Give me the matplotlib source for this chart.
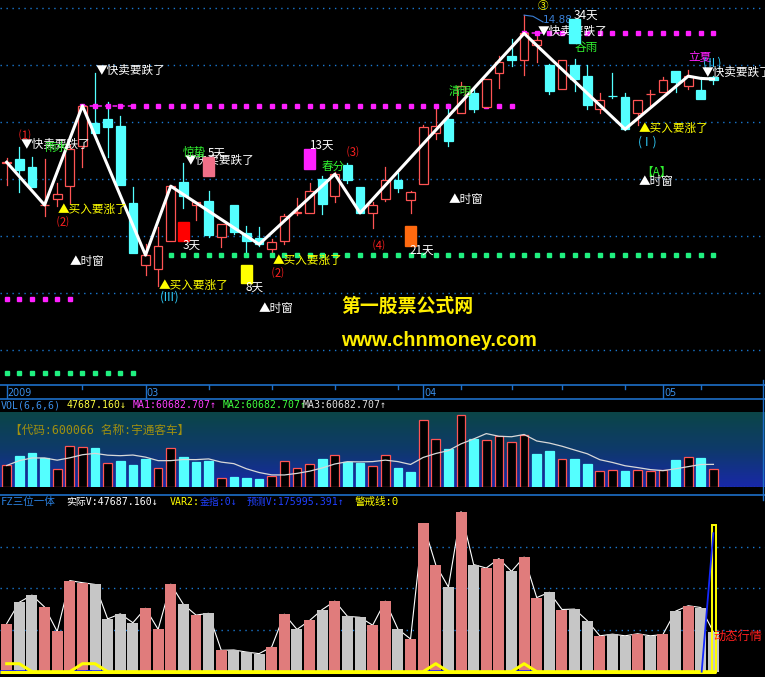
import numpy as np
import pandas as pd
import matplotlib
matplotlib.use('Agg')
import matplotlib.pyplot as plt
from matplotlib.patches import Rectangle
from matplotlib.lines import Line2D
from matplotlib.colors import LinearSegmentedColormap

plt.rcParams['font.family'] = ['Noto Sans CJK SC', 'DejaVu Sans']

# ---------------- data ----------------
opens  = [12.29, 12.36, 12.22, 11.55, 11.65, 11.89, 12.58, 12.99, 13.06, 12.94,
          11.58, 10.50, 10.42, 10.92, 11.95, 11.55, 11.62, 10.98, 11.55, 11.06,
          10.97, 10.77, 10.91, 11.41, 11.41, 12.00, 11.71, 12.25, 11.87, 11.41,
          11.65, 11.99, 11.64, 11.92, 12.82, 13.06, 13.17, 13.52, 13.27, 13.87,
          14.17, 14.09, 14.36, 14.01, 13.58, 14.01, 13.81, 13.23, 13.47, 13.44,
          13.16, 13.49, 13.54, 13.90, 13.63, 13.57, 13.80]
highs  = [12.37, 12.56, 12.40, 12.35, 11.94, 12.60, 13.29, 13.86, 13.36, 13.11,
          11.87, 10.87, 11.16, 11.88, 12.28, 11.60, 11.80, 11.22, 11.55, 11.18,
          11.16, 10.95, 11.40, 11.67, 11.93, 12.05, 12.12, 12.28, 11.87, 11.61,
          12.22, 12.11, 11.80, 12.95, 13.26, 13.33, 13.71, 13.60, 13.76, 14.16,
          14.46, 14.88, 14.56, 14.02, 14.09, 14.11, 14.01, 13.51, 13.86, 13.51,
          13.40, 13.57, 13.80, 13.90, 13.92, 13.79, 13.81]
lows   = [11.90, 11.77, 11.87, 11.36, 11.53, 11.58, 12.22, 12.82, 12.40, 11.90,
          10.71, 10.32, 10.12, 10.92, 11.49, 11.29, 10.98, 10.82, 11.04, 10.71,
          10.83, 10.70, 10.87, 11.37, 11.41, 11.39, 11.60, 11.93, 11.41, 11.14,
          11.62, 11.77, 11.41, 11.92, 12.71, 12.58, 13.17, 13.18, 13.27, 13.61,
          13.98, 13.83, 14.06, 13.49, 13.58, 13.55, 13.23, 13.16, 13.42, 12.87,
          12.95, 13.30, 13.54, 13.54, 13.58, 13.41, 13.68]
closes = [12.30, 12.16, 11.87, 11.55, 11.75, 12.54, 13.29, 12.82, 12.92, 11.90,
          10.71, 10.67, 10.83, 11.88, 11.70, 11.60, 11.02, 11.22, 11.08, 10.91,
          10.86, 10.90, 11.36, 11.41, 11.80, 11.57, 12.09, 11.98, 11.41, 11.55,
          11.98, 11.85, 11.77, 12.92, 12.93, 12.67, 13.64, 13.23, 13.76, 14.06,
          14.09, 14.56, 14.44, 13.55, 14.09, 13.76, 13.30, 13.40, 13.46, 12.88,
          13.40, 13.50, 13.75, 13.71, 13.81, 13.41, 13.74]
vol = [57800, 83400, 92000, 77700, 48300, 109400, 106900, 104800, 63400, 69500,
       58800, 76200, 50800, 105200, 80900, 68000, 70100, 25700, 26100, 23600,
       21700, 29800, 69100, 50800, 61500, 74600, 84800, 66500, 65300, 55800,
       84800, 51200, 39300, 178000, 128300, 101600, 192300, 128700, 124500, 135800,
       120500, 137700, 89000, 95400, 74700, 75200, 61300, 43100, 45100, 43100,
       45600, 43100, 44700, 72700, 79200, 77100, 47687]
vol_colors = "rcccrrrcrc" "ccrrcccrcc" "crrrrcrccr" "rccrrcrcrr" "rrccrccrrc" "rrrcrcr"
fz_colors  = "rccrrrrccc" "crrrcrcrcc" "crrcrcrccr" "rcrrrcrcrr" "crrcrccrcc" "rcrcrcc"
var2 = [9600, 9600, 0, 0, 0, 0, 9600, 9600, 0, 0,
        0, 0, 0, 0, 0, 0, 0, 0, 0, 0,
        0, 0, 0, 0, 0, 0, 0, 0, 0, 0,
        0, 0, 0, 0, 9600, 0, 0, 0, 0, 0,
        0, 9600, 0, 0, 0, 0, 0, 0, 0, 0,
        0, 0, 0, 0, 0, 0, 0]
zz_idx = [0, 3, 6, 11, 13, 20, 26, 28, 41, 49, 54, 55, 56]
zz_val = [12.30, 11.55, 13.29, 10.67, 11.88, 10.86, 12.09, 11.41, 14.56, 12.88, 13.81, 13.77, 13.76]
date_major_idx = [0, 11, 33, 52]
date_major_lab = ['2009', '03', '04', '05']
date_minor_idx = [6, 16, 21, 26, 31, 36, 40, 44, 49, 55]
fib_idx = [14, 16, 19, 24, 32, 45]
fib_lab = ['3天', '5天', '8天', '13天', '21天', '34天']
fib_lo = [10.92, 12.05, 10.18, 12.18, 10.83, 14.40]
fib_hi = [11.26, 12.39, 10.50, 12.53, 11.18, 14.81]
fib_above = [False, True, False, True, False, True]
level_price = [13.28, 9.90, 14.56, 10.67, 8.60]
level_start = [6, 0, 41, 12, 0]
level_end = [40, 5, 56, 56, 10]
level_kind = ['m', 'm', 'm', 'g', 'g']
vol_last = 47687.160
ma_last = 60682.707
pred_v = 175995.391

# ---------------- colours ----------------
RED = '#ff5454'
CYAN = '#54ffff'
GRID = '#1a78d0'
BLUE_T = '#3a8ee8'
YEL = '#ffff00'
GREEN_T = '#30f030'
WHITE = '#ffffff'
MAG = '#ff20ff'
RED_T = '#ff2020'
CYAN_T = '#30d0ff'

W, H = 765, 677
fig = plt.figure(figsize=(W / 100, H / 100), dpi=100, facecolor='black')
n = len(closes)
idx = np.arange(n)
X0 = -6.7 / 12.62
X1 = (W - 6.7) / 12.62


def add_ax(top, bottom):
    ax = fig.add_axes([0, 1 - bottom / H, 1, (bottom - top) / H])
    ax.set_axis_off()
    ax.set_xlim(X0, X1)
    return ax


def hline_px(y, color='#1e6fc8', lw=1.2):
    fig.add_artist(Line2D([0, 1], [1 - y / H, 1 - y / H], transform=fig.transFigure,
                          color=color, lw=lw))


def ftext(x, y, s, **kw):
    fig.text(x / W, 1 - y / H, s, va='center', ha='left', **kw)


DOT = (0, (1, 3.3))

# ---------------- main price panel ----------------
ax = add_ax(0, 385.3)
ax.set_ylim(15.146 - 385.3 / 57, 15.146)
for p in [15, 14, 13, 12, 11, 10, 9]:
    ax.axhline(p, color=GRID, lw=1, ls=DOT, zorder=0)

bw = 0.69
for i in range(n):
    o, h, l, c = opens[i], highs[i], lows[i], closes[i]
    up = c >= o
    col = RED if up else CYAN
    lo_b, hi_b = min(o, c), max(o, c)
    ax.plot([i, i], [l, lo_b], color=col, lw=0.9, zorder=2)
    ax.plot([i, i], [hi_b, h], color=col, lw=0.9, zorder=2)
    ax.add_patch(Rectangle((i - bw / 2, lo_b), bw, max(hi_b - lo_b, 0.008),
                           facecolor='black' if up else col, edgecolor=col,
                           lw=0.9, zorder=3))

# support / resistance dotted levels
for p, s, e, k in zip(level_price, level_start, level_end, level_kind):
    col = MAG if k == 'm' else '#20f080'
    xs = np.arange(s, e + 1)
    ax.plot(xs, [p] * len(xs), ls='none', marker='s', ms=2.3, color=col, mec=col, zorder=2)
    if k == 'm' and s > 0:
        ax.plot([s, s + 4], [p, p], color=col, lw=1.1, ls=(0, (3, 2)), zorder=2)

# zigzag line
ax.plot(zz_idx, zz_val, color='white', lw=2.2, zorder=5)

# high marker
ax.plot([41, 41.7, 42.5], [highs[41], highs[41] - 0.02, highs[41] - 0.12],
        color='#3a80d8', lw=0.8, zorder=5)
ax.text(42.5, 14.80, '14.88', color='#3a80d8', fontsize=7.5, va='center',
        ha='left', family='DejaVu Sans', zorder=5)

labels = [
    (1.11, 12.61, '▼快卖要跌了', WHITE),
    (0.97, 12.77, '⑴', RED_T),
    (2.96, 12.55, '雨水', GREEN_T),
    (7.08, 13.91, '▼快卖要跌了', WHITE),
    (4.04, 11.47, '▲买入要涨了', YEL),
    (3.99, 11.25, '⑵', RED_T),
    (5.02, 10.55, '▲时窗', WHITE),
    (14.13, 12.33, '▼快卖要跌了', WHITE),
    (13.95, 12.47, '惊蛰', GREEN_T),
    (12.04, 10.13, '▲买入要涨了', YEL),
    (12.15, 9.94, '(Ⅲ)', CYAN_T),
    (19.95, 9.74, '▲时窗', WHITE),
    (21.08, 10.58, '▲买入要涨了', YEL),
    (21.0, 10.37, '⑵', RED_T),
    (26.94, 12.49, '⑶', RED_T),
    (24.96, 12.23, '春分', GREEN_T),
    (29.0, 10.85, '⑷', RED_T),
    (35.05, 11.65, '▲时窗', WHITE),
    (35.05, 13.54, '清明', GREEN_T),
    (42.08, 14.59, '▼快卖要跌了', WHITE),
    (45.03, 14.32, '谷雨', GREEN_T),
    (54.0, 14.14, '立夏', MAG),
    (55.2, 14.04, '(Ⅱ)', CYAN_T),
    (55.07, 13.87, '▼快卖要跌了', WHITE),
    (50.05, 12.90, '▲买入要涨了', YEL),
    (50.05, 12.65, '(Ⅰ)', CYAN_T),
    (50.32, 12.12, '【A】', GREEN_T),
    (50.05, 11.96, '▲时窗', WHITE),
]
for x, y, s, c in labels:
    ax.text(x, y, s, color=c, fontsize=8.4, va='center', ha='left', zorder=6)
ax.text(42.05, 15.045, '③', color=YEL, fontsize=7.6, va='center', ha='left', zorder=6)

fib_col = ['#ff0000', '#f07088', '#ffff00', '#ff20ff', '#ff6a10', '#50ffff']
for i, lab, lo, hi, ab, c in zip(fib_idx, fib_lab, fib_lo, fib_hi, fib_above, fib_col):
    ax.add_patch(Rectangle((i - 0.43, lo), 0.87, hi - lo, color=c, zorder=7))
    ty = hi + 0.07 if ab else lo - 0.075
    ax.text(i - 0.05, ty, lab, color=WHITE, fontsize=8.4, va='center', ha='left', zorder=8)

ftext(341, 306, '第一股票公式网', color='#ffee00', fontsize=13.6, fontweight='bold')
ftext(341, 340.7, 'www.chnmoney.com', color='#ffee00', fontsize=14.3, fontweight='bold',
      family='Liberation Sans')

# ---------------- date strip ----------------
hline_px(385.3)
hline_px(398.5)
axd = add_ax(385.3, 398.5)
axd.set_ylim(0, 1)
for i, lab in zip(date_major_idx, date_major_lab):
    axd.plot([i, i], [0, 1], color='#1e6fc8', lw=1)
    axd.text(i + 0.08, 0.45, lab, color=BLUE_T, fontsize=6.9, va='center', ha='left',
             family='DejaVu Sans')
for i in date_minor_idx:
    axd.plot([i, i], [0.72, 1], color='#1e6fc8', lw=1)

# ---------------- VOL panel ----------------
MONO = ['DejaVu Sans Mono', 'Noto Sans CJK SC']
hy = 405.5
ftext(1, hy, 'VOL(6,6,6)', color=BLUE_T, fontsize=7.1, family=MONO)
ftext(66.7, hy, f'{vol_last:.3f}↓', color='#ffff40', fontsize=7.1, family=MONO)
ftext(133, hy, f'MA1:{ma_last:.3f}↑', color='#ff40ff', fontsize=7.1, family=MONO)
ftext(223, hy, f'MA2:{ma_last:.3f}↑', color='#40ff40', fontsize=7.1, family=MONO)
ftext(303, hy, f'MA3:{ma_last:.3f}↑', color='#e0e0e0', fontsize=7.1, family=MONO)

axv = add_ax(412, 487.3)
vtop = 75.3 * 2649
axv.set_ylim(0, vtop)
cmap = LinearSegmentedColormap.from_list('g', ['#0b4646', '#0e3a6a', '#1828a8'])
axv.imshow(np.linspace(0, 1, 256).reshape(-1, 1), cmap=cmap, aspect='auto',
           extent=[X0, X1, 0, vtop], origin='upper', zorder=0)
for i in range(n):
    up = vol_colors[i] == 'r'
    axv.bar(i, vol[i], width=0.69, facecolor='black' if up else CYAN,
            edgecolor=RED if up else CYAN, lw=0.9, zorder=2)
ma6 = pd.Series(vol).rolling(6, min_periods=1).mean()
axv.plot(idx, ma6, color='#d8d8d8', lw=0.9, zorder=3)
axv.axhline(0, color='#a0a0e0', lw=0.8, ls=(0, (1, 2)), zorder=1)
axv.text((10 - 6.7) / 12.62, vtop * (1 - 18 / 75.3), '【代码:600066 名称:宇通客车】',
         color='#a09010', fontsize=8.4, va='center', ha='left', family=MONO, zorder=4)

# ---------------- FZ panel ----------------
hline_px(495.3)
fy = 502.3
ftext(1, fy, 'FZ三位一体', color='#2a80e0', fontsize=7.6, family=MONO)
ftext(66.7, fy, f'实际V:{vol_last:.3f}↓', color=WHITE, fontsize=7.1, family=MONO)
ftext(169.3, fy, 'VAR2:', color=YEL, fontsize=7.1, family=MONO)
ftext(199.3, fy, '金指:0↓', color='#2040ff', fontsize=7.1, family=MONO)
ftext(246.7, fy, f'预测V:{pred_v:.3f}↑', color='#2040ff', fontsize=7.1, family=MONO)
ftext(355, fy, '警戒线:0', color=YEL, fontsize=7.6, family=MONO)

axf = add_ax(495.3, 677)
axf.set_ylim(-5.3 * 1201, 176.4 * 1201)
for g in [50000, 100000, 150000]:
    axf.axhline(g, color=GRID, lw=1, ls=DOT, zorder=0)
axf.plot(idx, vol, color='white', lw=0.8, zorder=1)
for i in range(n):
    up = fz_colors[i] == 'r'
    axf.bar(i, vol[i], width=0.87, color='#e07c7c' if up else '#c6c6c6', zorder=2)
for i in range(n):
    if var2[i] > 0:
        axf.plot([i - 0.75, i + 0.75], [-900, -900], color='#1020ff', lw=2.6, zorder=3,
                 solid_capstyle='butt')
axf.plot([X0, 56.2], [0, 0], color=YEL, lw=2.2, zorder=4, solid_capstyle='butt')
axf.plot(idx, var2, color=YEL, lw=2.2, zorder=4)
axf.add_patch(Rectangle((55.92, 0), 0.3, pred_v, fill=False, edgecolor=YEL, lw=1.4, zorder=5))
axf.plot([55.07, 55.99], [0, pred_v * 0.945], color='#1428ff', lw=1.3, zorder=5)
axf.text(55.97, 42900, '动态行情', color=RED_T, fontsize=8.8, va='center', ha='left', zorder=6)

fig.add_artist(Line2D([762.5 / W, 762.5 / W], [1 - 380 / H, 1 - 500 / H],
                      transform=fig.transFigure, color='#1e6fc8', lw=1))

fig.savefig('out.png', dpi=100, facecolor='black')
